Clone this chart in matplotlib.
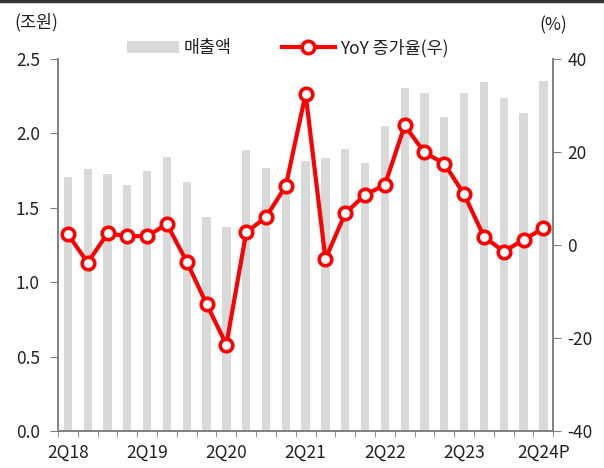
import matplotlib.pyplot as plt
import numpy as np
from matplotlib.lines import Line2D

plt.rcParams['font.family'] = ['Noto Sans CJK KR', 'DejaVu Sans']
plt.rcParams['axes.unicode_minus'] = False

# quarters 2Q18 .. 2Q24P
quarters = ['2Q18', '3Q18', '4Q18', '1Q19', '2Q19', '3Q19', '4Q19', '1Q20',
            '2Q20', '3Q20', '4Q20', '1Q21', '2Q21', '3Q21', '4Q21', '1Q22',
            '2Q22', '3Q22', '4Q22', '1Q23', '2Q23', '3Q23', '4Q23', '1Q24',
            '2Q24P']
sales = [1.71, 1.76, 1.73, 1.65, 1.745, 1.84, 1.67, 1.44,
         1.37, 1.89, 1.77, 1.62, 1.815, 1.837, 1.895, 1.80,
         2.05, 2.307, 2.272, 2.11, 2.272, 2.345, 2.238, 2.135, 2.35]
yoy = [2.3, -3.8, 2.5, 1.9, 1.9, 4.5, -3.6, -12.7,
       -21.4, 2.7, 6.0, 12.7, 32.5, -3.0, 6.8, 10.8,
       12.9, 25.7, 19.9, 17.5, 10.9, 1.8, -1.4, 1.1, 3.6]
label_every = 4

x = np.arange(len(quarters))
spine_col = '#808080'
txt_col = '#222222'
fs = 12.5

fig = plt.figure(figsize=(6.04, 4.68), dpi=100)
ax = fig.add_axes([0.096, 0.079, 0.82, 0.795])
ax2 = ax.twinx()

ax.bar(x, sales, width=0.42, color='#d9d9d9', label='매출액', zorder=1)
ax2.plot(x, yoy, color='#ff0000', lw=3, marker='o', markersize=9,
         markerfacecolor='white', markeredgecolor='#ff0000',
         markeredgewidth=2.6, label='YoY 증가율(우)', zorder=3)

ax.set_xlim(-0.5, len(quarters) - 0.5)
ax.set_ylim(0, 2.5)
ax.set_yticks(np.arange(0, 2.51, 0.5))
ax.set_yticklabels([f'{v:.1f}' for v in np.arange(0, 2.51, 0.5)])
ax2.set_ylim(-40, 40)
ax2.set_yticks([-40, -20, 0, 20, 40])

ax.set_xticks(x[::label_every])
ax.set_xticklabels([quarters[i] for i in range(0, len(quarters), label_every)])
ax.set_xticks(np.arange(-0.5, len(quarters), 1), minor=True)
ax.tick_params(axis='x', which='major', length=0, labelsize=fs,
               colors=txt_col, pad=9)
ax.tick_params(axis='x', which='minor', length=4, direction='out',
               color=spine_col)
ax.tick_params(axis='y', length=6, labelsize=fs, colors=txt_col,
               color=spine_col, pad=7)
ax2.tick_params(axis='y', length=6, labelsize=fs, colors=txt_col,
                color=spine_col, pad=4)

for a in (ax, ax2):
    a.spines['top'].set_visible(False)
    for s in ('left', 'right', 'bottom'):
        a.spines[s].set_color(spine_col)
        a.spines[s].set_linewidth(1.2)

fig.text(0.024, 0.953, '(조원)', fontsize=fs, color=txt_col, va='center')
fig.text(0.893, 0.945, '(%)', fontsize=fs, color=txt_col, va='center')

h1, l1 = ax.get_legend_handles_labels()
h2, l2 = ax2.get_legend_handles_labels()
leg = fig.legend(h1 + h2, l1 + l2, loc='center', ncol=2,
                 bbox_to_anchor=(0.476, 0.897), frameon=False, fontsize=fs,
                 handlelength=3.0, columnspacing=2.9, handletextpad=0.3)
for t in leg.get_texts():
    t.set_color(txt_col)

fig.add_artist(Line2D([0, 1], [0.998, 0.998], color='#333333', lw=2.5,
                      transform=fig.transFigure))

fig.savefig('out.png', dpi=100)
